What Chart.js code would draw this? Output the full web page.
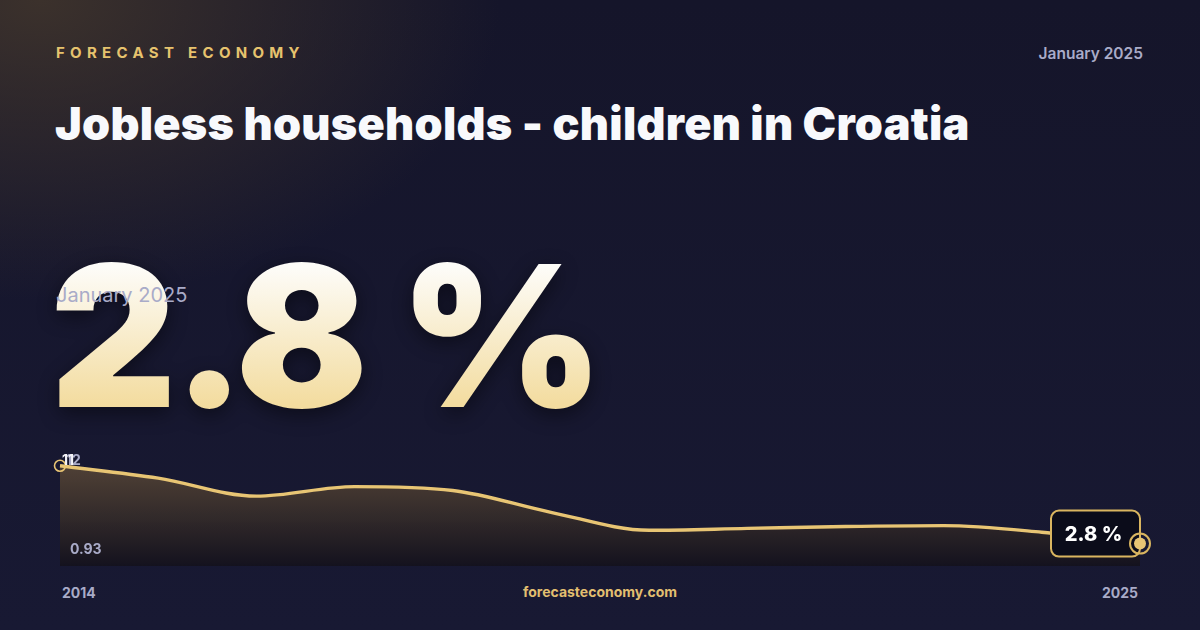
<!DOCTYPE html>
<html>
<head>
<meta charset="utf-8">
<script src="https://cdn.jsdelivr.net/npm/chart.js@4.4.1/dist/chart.umd.min.js"></script>
<style>
    html, body { margin: 0; padding: 0; }
    body {
        width: 1200px; height: 630px; overflow: hidden; position: relative;
        font-family: Inter, "Noto Sans", sans-serif;
        background:
            radial-gradient(ellipse 460px 300px at 40px 0px, rgba(66, 54, 44, 0.85), rgba(66, 54, 44, 0) 100%),
            linear-gradient(180deg, #15152a 0%, #181933 100%);
    }
    .txt { position: absolute; white-space: nowrap; }
    #brand { left: 56px; top: 43px; font-size: 15px; font-weight: 700; letter-spacing: 5.3px; color: #e6c36e; }
    #dateTop { right: 57px; top: 44px; font-size: 15.5px; font-weight: 600; color: #a9abc8; }
    #title { left: 55px; top: 96px; font-size: 45px; font-weight: 900; color: #f8f9fc; letter-spacing: 0.25px; }
    #big {
        left: 50px; top: 228px; font-size: 196px; font-weight: 900; letter-spacing: -4px; line-height: 1.1;
        background: linear-gradient(180deg, #fdfcf8 18%, #f3dc9f 82%);
        -webkit-background-clip: text; background-clip: text; color: transparent;
        filter: drop-shadow(0 6px 10px rgba(0,0,0,0.45));
    }
    #dateBig { left: 56px; top: 283px; font-size: 20px; font-weight: 400; color: #a9abc8; }
    #foot { left: 0; width: 1200px; top: 583px; text-align: center; font-size: 14px; font-weight: 700; color: #e2bf70; }
    #yStart { left: 62px; top: 584px; font-size: 14px; font-weight: 700; color: #a9abc8; }
    #yEnd { right: 62px; top: 584px; font-size: 14px; font-weight: 700; color: #a9abc8; }
    #chartBox { position: absolute; left: 40px; top: 440px; width: 1120px; height: 126px; }
</style>
</head>
<body>
<div class="txt" id="brand">FORECAST ECONOMY</div>
<div class="txt" id="dateTop">January 2025</div>
<div class="txt" id="title">Jobless households - children in Croatia</div>
<div class="txt" id="big">2.8 %</div>
<div class="txt" id="dateBig">January 2025</div>
<div class="txt" id="yStart">2014</div>
<div class="txt" id="foot">forecasteconomy.com</div>
<div class="txt" id="yEnd">2025</div>
<div id="chartBox"><canvas id="trendChart"></canvas></div>

<script>
// Yearly values (percent)
const years = ['2014', '2015', '2016', '2017', '2018', '2019', '2020', '2021', '2022', '2023', '2024', '2025'];
const values = [11.0, 9.7, 7.8, 8.8, 8.4, 6.1, 4.2, 4.4, 4.6, 4.7, 4.0, 2.8];

// Labels printed inside the chart
const maxLabel = '12';
const firstLabel = '11';
const minLabel = '0.93';
const lastLabel = '2.8 %';

const gold = '#e8c574';

// Draws the small value labels and the end badge
const markersPlugin = {
    id: 'markers',
    afterDatasetsDraw(chart) {
        const ctx = chart.ctx;
        const meta = chart.getDatasetMeta(0);
        const first = meta.data[0];
        const last = meta.data[meta.data.length - 1];
        const area = chart.chartArea;

        ctx.save();
        // start ring
        ctx.beginPath();
        ctx.arc(first.x, first.y, 5.5, 0, Math.PI * 2);
        ctx.lineWidth = 1.6;
        ctx.strokeStyle = gold;
        ctx.stroke();

        // top-left value labels
        ctx.font = '700 14px Inter, sans-serif';
        ctx.textBaseline = 'alphabetic';
        ctx.fillStyle = '#a9abc8';
        ctx.fillText(maxLabel, first.x + 6, first.y - 0.5);
        ctx.fillStyle = '#f4f4f8';
        ctx.fillText(firstLabel, first.x + 2, first.y - 0.5);
        ctx.fillStyle = '#a9abc8';
        ctx.fillText(minLabel, area.left + 10, area.bottom - 12);

        // end badge
        const bw = 89, bh = 46;
        const bx = last.x - 89, by = last.y - 33;
        ctx.beginPath();
        ctx.roundRect(bx, by, bw, bh, 8);
        ctx.fillStyle = '#0b0c1a';
        ctx.fill();
        ctx.lineWidth = 2;
        ctx.strokeStyle = '#d9b560';
        ctx.stroke();
        ctx.fillStyle = '#ffffff';
        ctx.font = '800 20px Inter, sans-serif';
        ctx.textAlign = 'center';
        ctx.textBaseline = 'middle';
        ctx.fillText(lastLabel, bx + bw / 2 - 2, by + bh / 2 + 1);

        // end point
        ctx.beginPath();
        ctx.arc(last.x, last.y, 10, 0, Math.PI * 2);
        ctx.lineWidth = 2;
        ctx.strokeStyle = '#d9b560';
        ctx.stroke();
        ctx.beginPath();
        ctx.arc(last.x, last.y, 6, 0, Math.PI * 2);
        ctx.fillStyle = gold;
        ctx.fill();
        ctx.restore();
    }
};

const ctx = document.getElementById('trendChart').getContext('2d');
new Chart(ctx, {
    type: 'line',
    data: {
        labels: years,
        datasets: [{
            data: values,
            borderColor: gold,
            borderWidth: 3.4,
            pointRadius: 0,
            cubicInterpolationMode: 'monotone',
            fill: 'start',
            backgroundColor: (context) => {
                const area = context.chart.chartArea;
                if (!area) return 'rgba(0,0,0,0)';
                const g = context.chart.ctx.createLinearGradient(0, area.top, 0, area.bottom);
                g.addColorStop(0, 'rgba(92, 74, 56, 0.85)');
                g.addColorStop(1, 'rgba(20, 18, 28, 0.9)');
                return g;
            }
        }]
    },
    options: {
        responsive: true,
        maintainAspectRatio: false,
        animation: false,
        layout: { padding: { left: 20, right: 20, top: 22, bottom: 0 } },
        plugins: { legend: { display: false }, tooltip: { enabled: false } },
        scales: {
            x: { display: false, offset: false },
            y: { display: false, min: 0.44, max: 11.4 }
        }
    },
    plugins: [markersPlugin]
});
</script>
</body>
</html>
